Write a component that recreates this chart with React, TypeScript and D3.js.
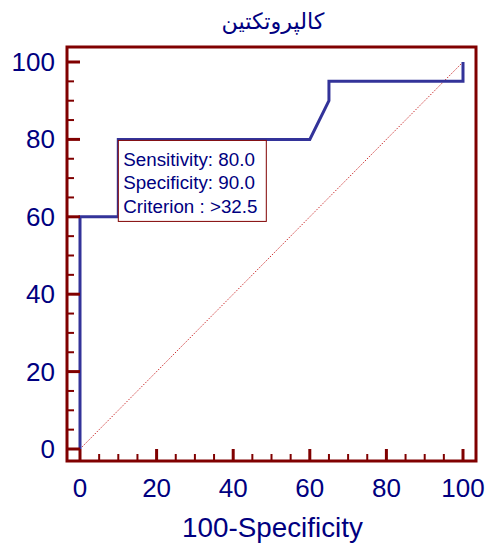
import React from "react";
import { scaleLinear, line, range } from "d3";

// ROC curve points (100-Specificity, Sensitivity)
const rocX = [0, 0, 10, 10, 60, 65, 65, 100, 100];
const rocY = [0, 60, 60, 80, 80, 90, 95, 95, 100];

const majorTicks = [0, 20, 40, 60, 80, 100];
const minorTicks = range(0, 101, 5).filter((v) => v % 20 !== 0);

const title = "كالپروتكتين";
const xTitle = "100-Specificity";
const infoLines = ["Sensitivity: 80.0", "Specificity: 90.0", "Criterion : >32.5"];
const infoPoint = [10, 80];

const frameColor = "#800000";
const textColor = "#000080";
const curveColor = "#333399";

export default function App() {
  const width = 485,
    height = 545;
  const frame = { left: 67, top: 47, right: 476, bottom: 461 };

  const x = scaleLinear().domain([0, 100]).range([80, 463]);
  const y = scaleLinear().domain([0, 100]).range([449, 62]);

  const pts: [number, number][] = rocX.map((d, i) => [d, rocY[i]]);
  const path = line<[number, number]>()
    .x((d) => x(d[0]))
    .y((d) => y(d[1]))(pts);

  const font = "'Liberation Sans', Arial, sans-serif";

  return (
    <svg
      width={width}
      height={height}
      style={{ position: "absolute", left: 0, top: 0, background: "#fff" }}
      fontFamily={font}
    >
      {/* title */}
      <text
        x={273}
        y={29}
        textAnchor="middle"
        fontSize={22.3}
        fill={textColor}
        fontFamily="'DejaVu Sans', sans-serif"
      >
        {title}
      </text>

      {/* diagonal reference */}
      <line
        x1={x(0)}
        y1={y(0)}
        x2={x(100)}
        y2={y(100)}
        stroke="#cc3030"
        strokeWidth={1}
        strokeDasharray="1.5,1.5"
      />

      {/* ROC curve */}
      <path d={path || ""} fill="none" stroke={curveColor} strokeWidth={3} />

      {/* frame */}
      <rect
        x={frame.left}
        y={frame.top}
        width={frame.right - frame.left}
        height={frame.bottom - frame.top}
        fill="none"
        stroke={frameColor}
        strokeWidth={3}
      />

      {/* y ticks */}
      {majorTicks.map((t) => (
        <g key={"ym" + t}>
          <line x1={frame.left} x2={x(0)} y1={y(t)} y2={y(t)} stroke={frameColor} strokeWidth={3} />
          <text x={55} y={y(t) + 9} textAnchor="end" fontSize={26} fill={textColor}>
            {t}
          </text>
        </g>
      ))}
      {minorTicks.map((t) => (
        <line key={"yn" + t} x1={frame.left} x2={frame.left + 7} y1={y(t)} y2={y(t)} stroke={frameColor} strokeWidth={2} />
      ))}

      {/* x ticks */}
      {majorTicks.map((t) => (
        <g key={"xm" + t}>
          <line x1={x(t)} x2={x(t)} y1={frame.bottom} y2={y(0)} stroke={frameColor} strokeWidth={3} />
          <text x={x(t)} y={497} textAnchor="middle" fontSize={26} fill={textColor}>
            {t}
          </text>
        </g>
      ))}
      {minorTicks.map((t) => (
        <line key={"xn" + t} x1={x(t)} x2={x(t)} y1={frame.bottom} y2={frame.bottom - 7} stroke={frameColor} strokeWidth={2} />
      ))}

      {/* x axis title */}
      <text x={272.5} y={537} textAnchor="middle" fontSize={27.8} fill={textColor}>
        {xTitle}
      </text>

      {/* info box */}
      <g transform={`translate(${x(infoPoint[0])},${y(infoPoint[1])})`}>
        <rect x={0} y={1} width={148} height={81} fill="#fff" stroke={frameColor} strokeWidth={1} />
        {infoLines.map((s, i) => (
          <text key={s} x={5} y={26.5 + i * 23.5} fontSize={18.8} fill={textColor}>
            {s}
          </text>
        ))}
      </g>
    </svg>
  );
}
